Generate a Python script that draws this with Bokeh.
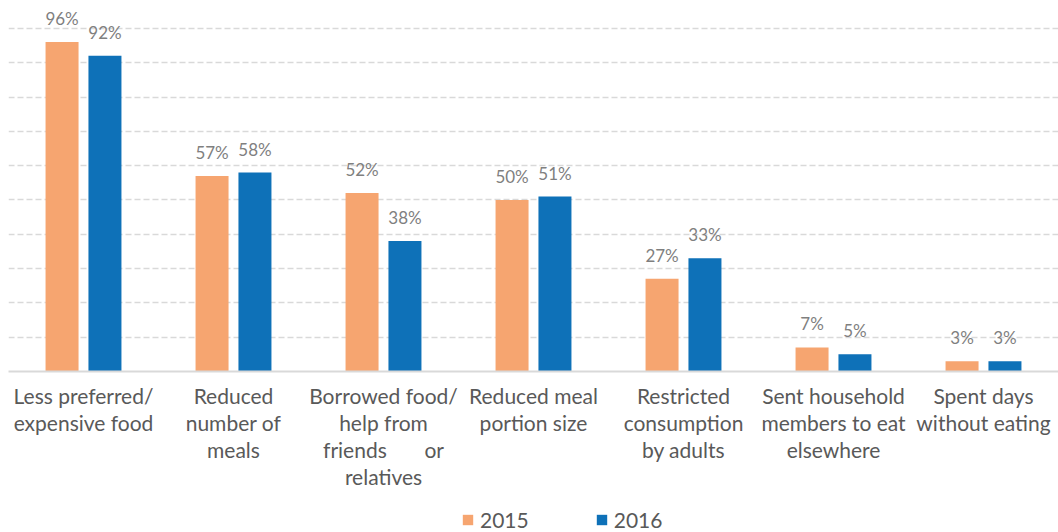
from bokeh.plotting import figure
from bokeh.layouts import column
from bokeh.models import ColumnDataSource, FactorRange, Range1d, FixedTicker, Legend, LegendItem
from bokeh.transform import dodge
from bokeh.core.properties import value
from bokeh.embed import file_html
from bokeh.resources import INLINE

categories = [
    "Less preferred/\nexpensive food",
    "Reduced\nnumber of\nmeals",
    "Borrowed food/\nhelp from\nfriends\u00a0\u00a0\u00a0\u00a0\u00a0\u00a0\u00a0or\nrelatives",
    "Reduced meal\nportion size",
    "Restricted\nconsumption\nby adults",
    "Sent household\nmembers to eat\nelsewhere",
    "Spent days\nwithout eating",
]
values_2015 = [96, 57, 52, 50, 27, 7, 3]
values_2016 = [92, 58, 38, 51, 33, 5, 3]
series_names = ["2015", "2016"]

ORANGE = "#F6A570"
BLUE = "#0E71B8"
GREY_TXT = "#595959"
FONT = "Lato"

src = ColumnDataSource(dict(
    cat=categories,
    v15=values_2015,
    v16=values_2016,
    l15=[f"{v}%" for v in values_2015],
    l16=[f"{v}%" for v in values_2016],
))

p = figure(
    x_range=FactorRange(*categories, range_padding=0),
    y_range=Range1d(0, 105.8),
    width=1058, height=500,
    output_backend="svg", toolbar_location=None,
    min_border_left=8, min_border_right=0, min_border_top=8, min_border_bottom=129,
    outline_line_color=None,
)

r15 = p.vbar(x=dodge("cat", -0.143, range=p.x_range), top="v15", width=0.22,
             source=src, fill_color=ORANGE, line_color=None)
r16 = p.vbar(x=dodge("cat", 0.143, range=p.x_range), top="v16", width=0.22,
             source=src, fill_color=BLUE, line_color=None)

p.text(x=dodge("cat", -0.143, range=p.x_range), y="v15", text="l15", source=src,
       text_align="center", text_baseline="bottom", y_offset=-13,
       text_font=value(FONT), text_font_size="17px", text_color="#7f7f7f")
p.text(x=dodge("cat", 0.143, range=p.x_range), y="v16", text="l16", source=src,
       text_align="center", text_baseline="bottom", y_offset=-13,
       text_font=value(FONT), text_font_size="17px", text_color="#7f7f7f")

p.yaxis.visible = False
p.xgrid.visible = False
p.ygrid.ticker = FixedTicker(ticks=[10, 20, 30, 40, 50, 60, 70, 80, 90, 100])
p.ygrid.grid_line_color = "#d9d9d9"
p.ygrid.grid_line_dash = "6 3"
p.ygrid.grid_line_width = 1.5

xa = p.xaxis[0]
xa.axis_line_color = "#d9d9d9"
xa.axis_line_width = 2
xa.major_tick_line_color = None
xa.minor_tick_line_color = None
xa.major_label_text_font = FONT
xa.major_label_text_font_size = "21px"
xa.major_label_text_color = GREY_TXT
xa.major_label_text_line_height = 1.08
xa.major_label_standoff = 5

# legend strip (swatches drawn by the legend; the dummy bars have zero height)
lg = figure(width=1058, height=32, output_backend="svg", toolbar_location=None,
            min_border=0, outline_line_color=None,
            x_range=Range1d(0, 1), y_range=Range1d(0, 1))
lg.axis.visible = False
lg.grid.visible = False
d15 = lg.vbar(x=[0.5], top=[0], bottom=[0], width=0.0, fill_color=ORANGE, line_color=None)
d16 = lg.vbar(x=[0.5], top=[0], bottom=[0], width=0.0, fill_color=BLUE, line_color=None)
legend = Legend(items=[LegendItem(label=series_names[0], renderers=[d15]),
                       LegendItem(label=series_names[1], renderers=[d16])],
                orientation="horizontal", location=(453, 0),
                label_text_font=FONT, label_text_font_size="21px",
                label_text_color=GREY_TXT, glyph_width=13, glyph_height=13,
                spacing=66, border_line_color=None, background_fill_alpha=0,
                padding=0, margin=0, label_standoff=6)
lg.add_layout(legend, "center")

layout = column(p, lg, spacing=0)
open("out.html", "w").write(file_html(layout, INLINE))
